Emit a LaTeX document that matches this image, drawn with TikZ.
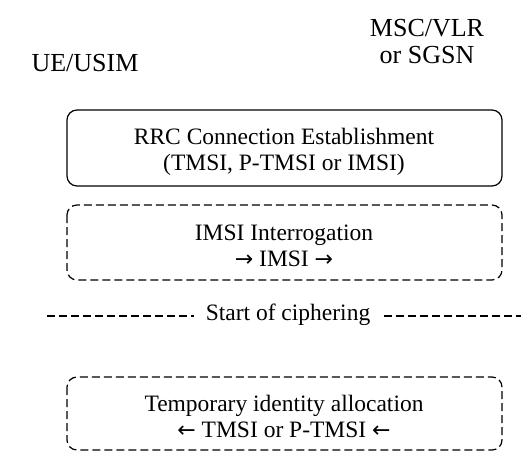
\documentclass[tikz,border=0pt]{standalone}
\usepackage{fontspec}
\setmainfont{Liberation Serif}
\newfontfamily\arrowfont{DejaVu Sans}
\newcommand{\rarr}{{\arrowfont\fontsize{22}{26}\selectfont →}}
\newcommand{\larr}{{\arrowfont\fontsize{22}{26}\selectfont ←}}
\begin{document}
\begin{tikzpicture}[x=1pt,y=-1pt,
  lbl/.style={font=\fontsize{23.5}{26}\selectfont, align=center, inner sep=0pt},
  head/.style={font=\fontsize{26}{27}\selectfont, align=center, inner sep=0pt},
  phase/.style={draw, line width=1.2pt, rounded corners=10pt},
  dashline/.style={line width=1.2pt, dash pattern=on 8pt off 4pt}]
  \useasboundingbox (0,0) rectangle (521,453);
  % entities
  \node[head] (ue) at (85,63) {UE/USIM};
  \node[head] (msc) at (427,42) {MSC/VLR\\or SGSN};
  % RRC connection establishment
  \draw[phase] (67,110) rectangle (502,186);
  \node[lbl] (rrc) at (284,152) {RRC Connection Establishment\\(TMSI, P-TMSI or IMSI)};
  % IMSI interrogation
  \draw[phase, dashline] (67,205) rectangle (502,280);
  \node[lbl] (imsi) at (284,246) {IMSI Interrogation\\\rarr{} IMSI \rarr};
  % start of ciphering
  \node[lbl] (ciph) at (288,315) {Start of ciphering};
  \coordinate (cl) at (47,316);
  \coordinate (cr) at (521,316);
  \draw[dashline] (cl) -- ([xshift=-12pt]ciph.west|-cl);
  \draw[dashline] ([xshift=14pt]ciph.east|-cr) -- (cr);
  % temporary identity allocation
  \draw[phase, dashline] (67,377) rectangle (502,450);
  \node[lbl] (tmsi) at (284,416) {Temporary identity allocation\\\larr{} TMSI or P-TMSI \larr};
\end{tikzpicture}
\end{document}
